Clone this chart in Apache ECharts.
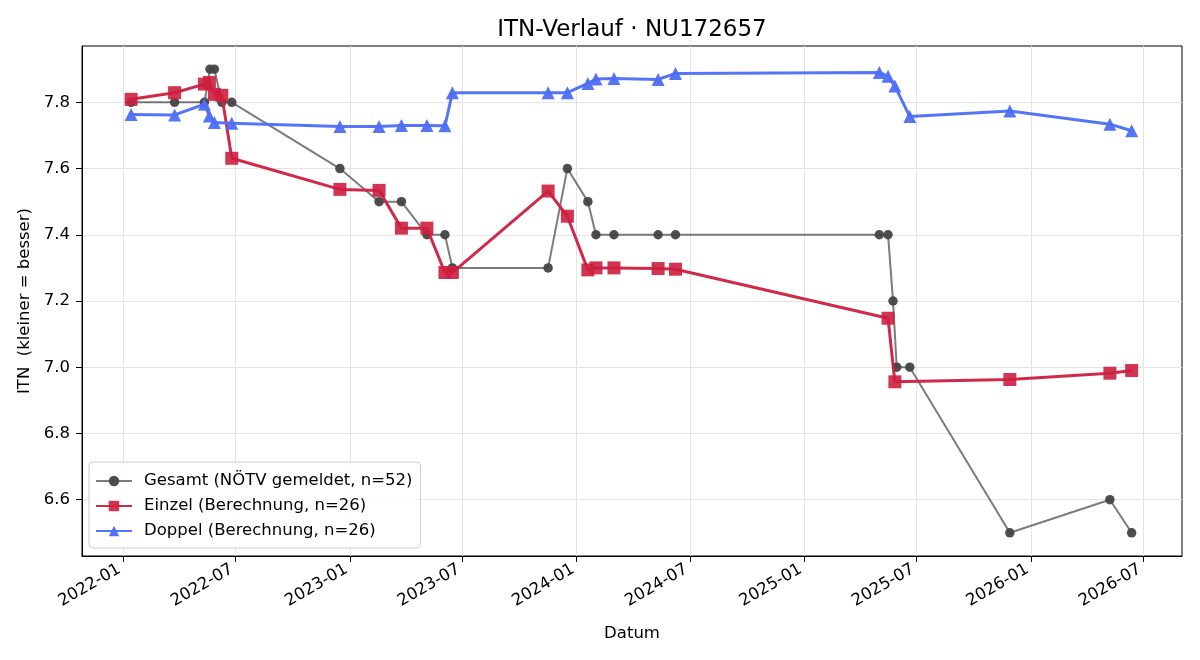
<!DOCTYPE html>
<html><head><meta charset="utf-8">
<script src="https://cdn.jsdelivr.net/npm/echarts@6/dist/echarts.min.js"></script>
<style>html,body{margin:0;padding:0;background:#fff}#c{width:1200px;height:660px}</style>
</head><body><div id="c"></div>
<script>
const xTickLabels = ['2022-01','2022-07','2023-01','2023-07','2024-01','2024-07','2025-01','2025-07','2026-01','2026-07'];
const yTickValues = [6.6, 6.8, 7.0, 7.2, 7.4, 7.6, 7.8];
const xMin = '2021-10-27', xMax = '2026-09-01';
const yMin = 6.43, yMax = 7.97;

const gesamtDates = ['2022-01-14','2022-03-25','2022-05-12','2022-05-21','2022-05-28','2022-06-09','2022-06-25','2022-12-16','2023-02-17','2023-03-25','2023-05-05','2023-06-03','2023-06-15','2023-11-16','2023-12-17','2024-01-19','2024-02-01','2024-03-01','2024-05-11','2024-06-08','2025-05-02','2025-05-16','2025-05-24','2025-05-30','2025-06-20','2025-11-28','2026-05-08','2026-06-12'];
const gesamtValues = [7.8,7.8,7.8,7.9,7.9,7.8,7.8,7.6,7.5,7.5,7.4,7.4,7.3,7.3,7.6,7.5,7.4,7.4,7.4,7.4,7.4,7.4,7.2,7.0,7.0,6.5,6.6,6.5];

const einzelDates = ['2022-01-14','2022-03-25','2022-05-12','2022-05-20','2022-05-28','2022-06-09','2022-06-25','2022-12-16','2023-02-17','2023-03-25','2023-05-05','2023-06-03','2023-06-15','2023-11-16','2023-12-17','2024-01-19','2024-02-01','2024-03-01','2024-05-11','2024-06-08','2025-05-16','2025-05-27','2025-11-28','2026-05-08','2026-06-12'];
const einzelValues = [7.809,7.829,7.855,7.86,7.824,7.821,7.631,7.537,7.534,7.42,7.42,7.286,7.286,7.532,7.456,7.294,7.3,7.3,7.298,7.296,7.148,6.956,6.963,6.982,6.99];

const doppelDates = ['2022-01-14','2022-03-25','2022-05-12','2022-05-20','2022-05-28','2022-06-25','2022-12-16','2023-02-17','2023-03-25','2023-05-05','2023-06-03','2023-06-15','2023-11-16','2023-12-17','2024-01-19','2024-02-01','2024-03-01','2024-05-11','2024-06-08','2025-05-02','2025-05-16','2025-05-27','2025-06-20','2025-11-28','2026-05-08','2026-06-12'];
const doppelValues = [7.763,7.762,7.794,7.759,7.739,7.737,7.727,7.727,7.73,7.73,7.729,7.829,7.829,7.829,7.857,7.87,7.872,7.869,7.887,7.89,7.879,7.849,7.757,7.774,7.734,7.714];

const FONT = 'DejaVu Sans';
function toTs(s){const p=s.split('-').map(Number);return Date.UTC(p[0],p[1]-1,p[2]||1);}
function zip(ds, vs){return ds.map((d,i)=>[toTs(d), vs[i]]);}
function fmtMonth(v){const d=new Date(v);return d.getUTCFullYear()+'-'+String(d.getUTCMonth()+1).padStart(2,'0');}

const xTicks = xTickLabels.map(toTs);
const chart = echarts.init(document.getElementById('c'), null, {renderer:'canvas'});
chart.setOption({
  animation:false,
  backgroundColor:'#fff',
  textStyle:{fontFamily:FONT},
  title:{text:'ITN-Verlauf · NU172657', left:632, textAlign:'center', top:19, padding:0,
    textStyle:{fontFamily:FONT, fontSize:23, fontWeight:'normal', color:'#000'}},
  grid:{left:82, right:18, top:46, bottom:104, show:true, borderColor:'#000', borderWidth:1, backgroundColor:'transparent'},
  legend:{left:89, top:462, orient:'vertical', backgroundColor:'rgba(255,255,255,0.85)', borderColor:'#cccccc', borderWidth:1, borderRadius:4,
    padding:[10,8,8,6], itemWidth:36, itemHeight:13, itemGap:7,
    textStyle:{fontFamily:FONT, fontSize:16.5, color:'#000', lineHeight:18, padding:[0,0,0,7]},
    data:['Gesamt (NÖTV gemeldet, n=52)','Einzel (Berechnung, n=26)','Doppel (Berechnung, n=26)']},
  xAxis:{type:'value', min:toTs(xMin), max:toTs(xMax), name:'Datum', nameLocation:'middle', nameGap:69,
    nameTextStyle:{fontFamily:FONT, fontSize:16.5, color:'#000'},
    axisLine:{show:true, lineStyle:{color:'#000', width:1}},
    axisTick:{show:true, customValues:xTicks, length:6, lineStyle:{color:'#000'}},
    axisLabel:{customValues:xTicks, rotate:30, margin:10, padding:[0,4,0,0], formatter:fmtMonth, fontFamily:FONT, fontSize:16.5, color:'#000'},
    splitLine:{show:true, lineStyle:{color:'#e4e4e4', width:1}}},
  yAxis:{type:'value', min:yMin, max:yMax, name:'ITN  (kleiner = besser)', nameLocation:'middle', nameGap:46,
    nameTextStyle:{fontFamily:FONT, fontSize:16.5, color:'#000'},
    axisLine:{show:true, lineStyle:{color:'#000', width:1}},
    axisTick:{show:true, customValues:yTickValues, length:6, lineStyle:{color:'#000'}},
    axisLabel:{customValues:yTickValues, margin:12, formatter:v=>Number(v).toFixed(1), fontFamily:FONT, fontSize:16.5, color:'#000'},
    splitLine:{show:true, lineStyle:{color:'#e4e4e4', width:1}}},
  series:[
    {name:'Gesamt (NÖTV gemeldet, n=52)', type:'line', data:zip(gesamtDates, gesamtValues), symbol:'circle', symbolSize:9.5, z:2,
      lineStyle:{color:'#444', width:2, opacity:0.7}, itemStyle:{color:'#444', opacity:0.95}},
    {name:'Einzel (Berechnung, n=26)', type:'line', data:zip(einzelDates, einzelValues), symbol:'rect', symbolSize:13, z:3,
      lineStyle:{color:'#cc1f3f', width:3, opacity:0.95}, itemStyle:{color:'#cc1f3f', opacity:0.9}},
    {name:'Doppel (Berechnung, n=26)', type:'line', data:zip(doppelDates, doppelValues), symbol:'triangle', symbolSize:13, z:4,
      lineStyle:{color:'#4d6ef5', width:3, opacity:0.95}, itemStyle:{color:'#4d6ef5', opacity:0.95}}
  ]
});
</script></body></html>
